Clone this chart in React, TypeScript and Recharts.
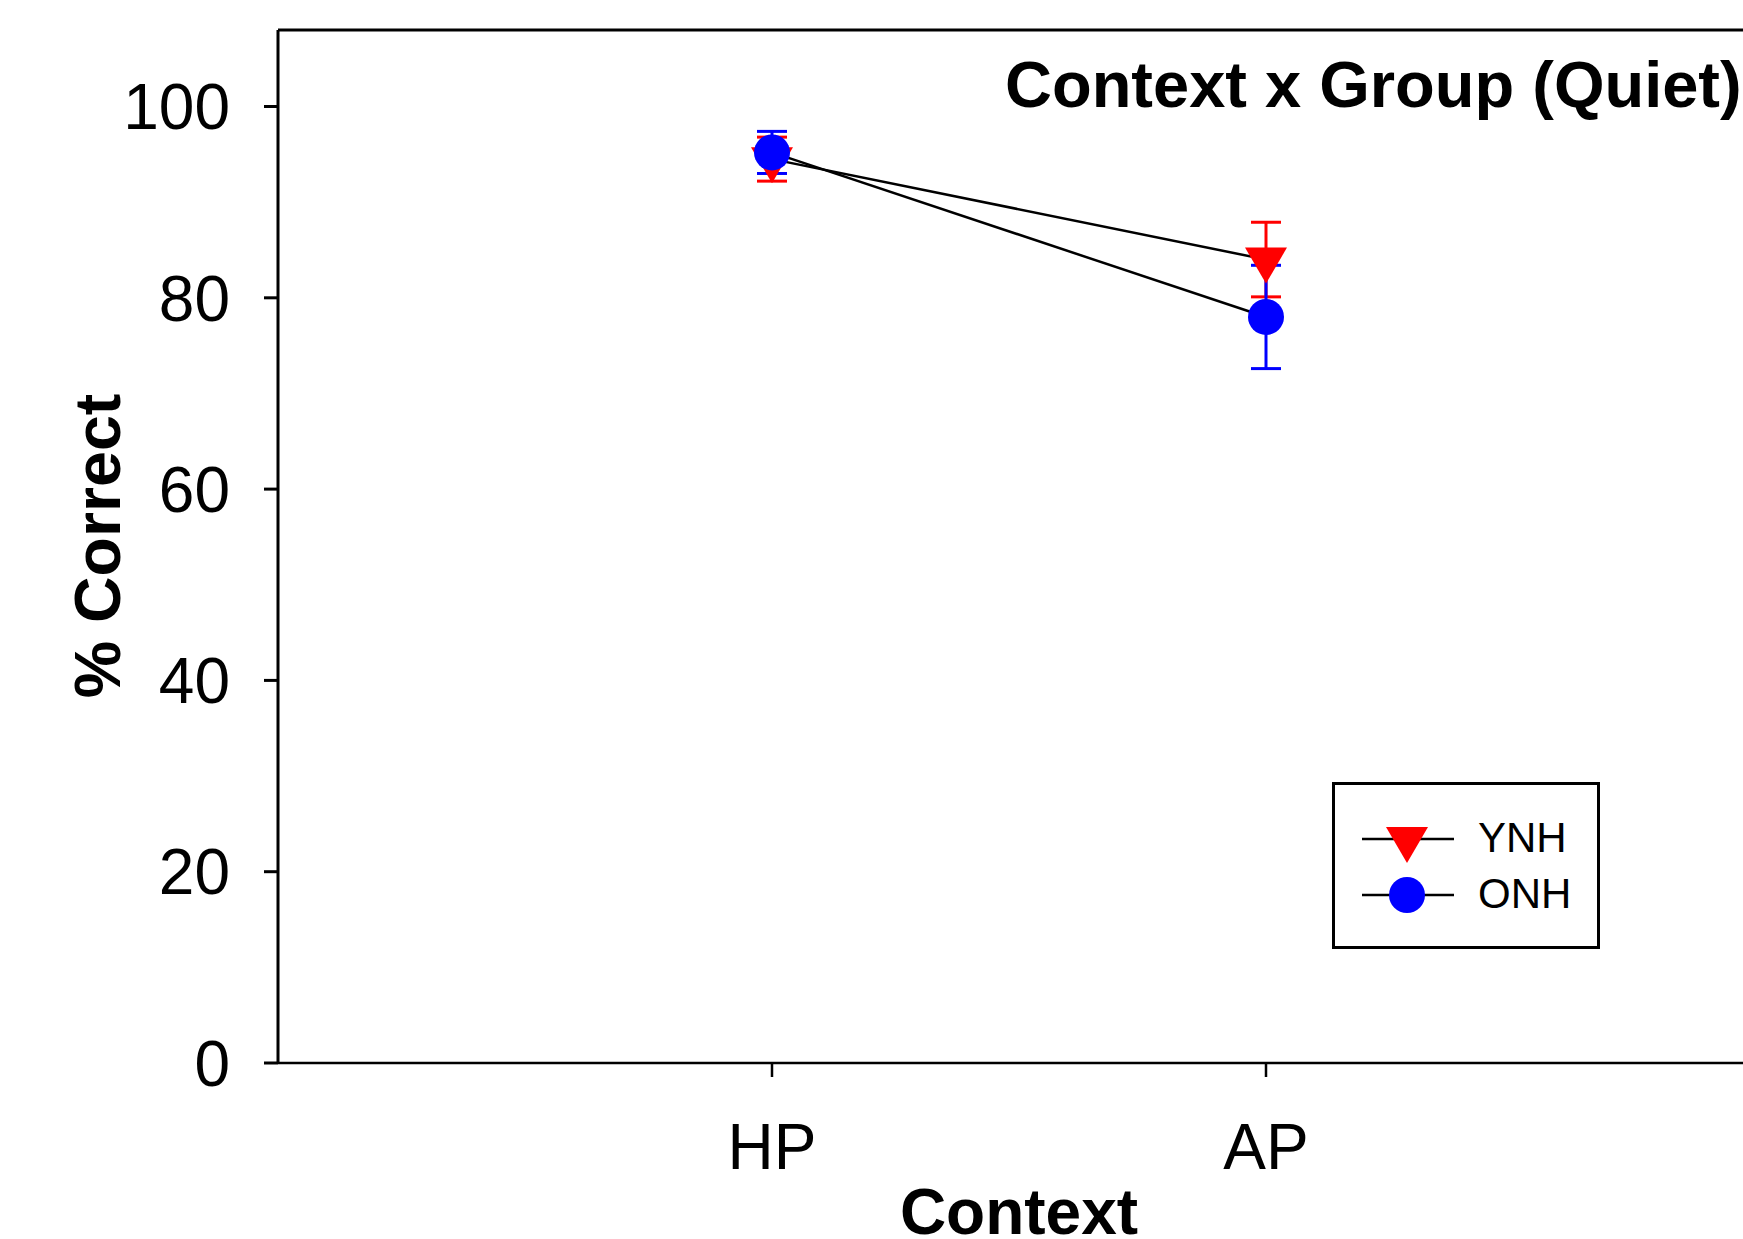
import React from 'react';
import {
  LineChart, Line, XAxis, YAxis, ErrorBar, Legend, ReferenceLine, Customized,
} from 'recharts';

const categories = ['HP', 'AP'];
const ynhMean = [94.5, 84.0];
const ynhErr = [2.3, 3.9];
const onhMean = [95.2, 78.0];
const onhErr = [2.2, 5.4];
const yTicks = [0, 20, 40, 60, 80, 100];

const data = categories.map((name, i) => ({
  x: i + 1,
  name,
  ynh: ynhMean[i],
  ynhErr: ynhErr[i],
  onh: onhMean[i],
  onhErr: onhErr[i],
}));

const FONT = '"Liberation Sans", Arial, sans-serif';
const RED = '#ff0000';
const BLUE = '#0000ff';

const TriangleDot = (props: any) => {
  const { cx, cy } = props;
  if (cx == null || cy == null) return null;
  return <path d={`M${cx - 21},${cy - 12} L${cx + 21},${cy - 12} L${cx},${cy + 24} Z`} fill={RED} />;
};

const CircleDot = (props: any) => {
  const { cx, cy } = props;
  if (cx == null || cy == null) return null;
  return <circle cx={cx} cy={cy} r={18} fill={BLUE} />;
};

const LegendBox = () => (
  <svg width={268} height={167} style={{ display: 'block' }}>
    <rect x={1.5} y={1.5} width={265} height={164} fill="#fff" stroke="#000" strokeWidth={3} />
    <line x1={30} x2={122} y1={57} y2={57} stroke="#000" strokeWidth={2.5} />
    <path d="M54,45 L96,45 L75,81 Z" fill={RED} />
    <text x={146} y={70} fontFamily={FONT} fontSize={42} fill="#000">YNH</text>
    <line x1={30} x2={122} y1={113} y2={113} stroke="#000" strokeWidth={2.5} />
    <circle cx={75} cy={113} r={18} fill={BLUE} />
    <text x={146} y={126} fontFamily={FONT} fontSize={42} fill="#000">ONH</text>
  </svg>
);

const Labels = () => (
  <g fontFamily={FONT} fill="#000" fontWeight="bold">
    <text x={1005} y={107} fontSize={65}>Context x Group (Quiet)</text>
    <text x={1019} y={1234} fontSize={64} textAnchor="middle">Context</text>
    <text transform="translate(120,546) rotate(-90)" fontSize={64.5} textAnchor="middle">% Correct</text>
  </g>
);

export default function App() {
  return (
    <div style={{ position: 'absolute', left: 0, top: 0, width: 1743, height: 1239, overflow: 'hidden', background: '#fff' }}>
      <LineChart
        width={1760}
        height={1239}
        data={data}
        margin={{ top: 30, right: 0, left: 0, bottom: 76 }}
      >
        <XAxis
          type="number"
          dataKey="x"
          domain={[0, 3]}
          ticks={[1, 2]}
          tickFormatter={(v: number) => categories[v - 1]}
          height={100}
          stroke="#000"
          strokeWidth={2.5}
          tickSize={14}
          tickMargin={47}
          tick={{ fontFamily: FONT, fontSize: 64, fill: '#000' }}
        />
        <YAxis
          type="number"
          domain={[0, 108]}
          ticks={yTicks}
          width={278}
          stroke="#000"
          strokeWidth={3}
          tickSize={14}
          tickMargin={34}
          tick={{ fontFamily: FONT, fontSize: 64, fill: '#000' }}
        />
        <ReferenceLine y={108} stroke="#000" strokeWidth={3} />
        <Line
          dataKey="ynh"
          stroke="#000"
          strokeWidth={2.5}
          dot={<TriangleDot />}
          activeDot={false}
          isAnimationActive={false}
        >
          <ErrorBar dataKey="ynhErr" width={15} stroke={RED} strokeWidth={3} direction="y" isAnimationActive={false} />
        </Line>
        <Line
          dataKey="onh"
          stroke="#000"
          strokeWidth={2.5}
          dot={<CircleDot />}
          activeDot={false}
          isAnimationActive={false}
        >
          <ErrorBar dataKey="onhErr" width={15} stroke={BLUE} strokeWidth={3} direction="y" isAnimationActive={false} />
        </Line>
        <Legend
          layout="vertical"
          align="center"
          verticalAlign="middle"
          content={<LegendBox />}
          wrapperStyle={{ left: 1332, top: 782, width: 268, height: 167 }}
        />
        <Customized component={<Labels />} />
      </LineChart>
    </div>
  );
}
